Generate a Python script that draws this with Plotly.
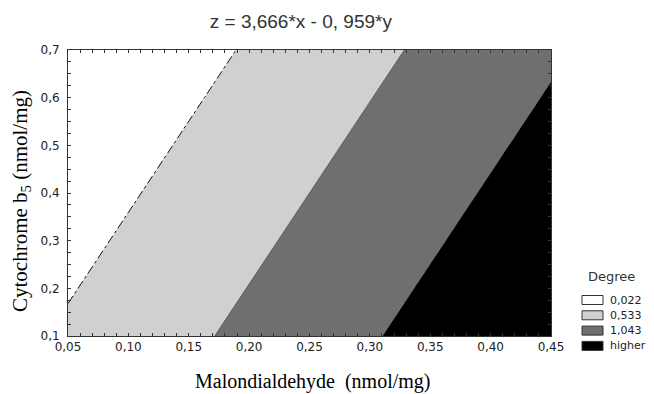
import numpy as np
import plotly.graph_objects as go

# Model shown in the title: z = 3,666*x - 0,959*y
coef_x = 3.666
coef_y = -0.959

# Grid over the axis ranges
x_vals = [0.05, 0.10, 0.15, 0.20, 0.25, 0.30, 0.35, 0.40, 0.45]
y_vals = [0.1, 0.2, 0.3, 0.4, 0.5, 0.6, 0.7]

# Contour levels (legend "Degree")
levels = [0.022, 0.533, 1.043]
legend_labels = ["0,022", "0,533", "1,043", "higher"]
band_colors = ["#ffffff", "#d0d0d0", "#6f6f6f", "#000000"]

x_ticks = [0.05, 0.10, 0.15, 0.20, 0.25, 0.30, 0.35, 0.40, 0.45]
y_ticks = [0.1, 0.2, 0.3, 0.4, 0.5, 0.6, 0.7]

X, Y = np.meshgrid(np.array(x_vals), np.array(y_vals))
Z = coef_x * X + coef_y * Y

step = (levels[-1] - levels[0]) / (len(levels) - 1)
n = len(band_colors)
cscale = []
for i, c in enumerate(band_colors):
    cscale.append([i / n, c])
    cscale.append([(i + 1) / n, c])

fig = go.Figure()
fig.add_trace(go.Contour(
    x=x_vals, y=y_vals, z=Z,
    contours=dict(start=levels[0], end=levels[-1], size=step, coloring="fill"),
    colorscale=cscale, showscale=False,
    line=dict(width=0), hoverinfo="skip", showlegend=False,
))
# dash-dot boundary of the first level
fig.add_trace(go.Contour(
    x=x_vals, y=y_vals, z=Z,
    contours=dict(start=levels[0], end=levels[0], size=step, coloring="none"),
    line=dict(width=1, color="#111111", dash="dashdot"),
    showscale=False, hoverinfo="skip", showlegend=False,
))
# faint boundary of the second level
fig.add_trace(go.Contour(
    x=x_vals, y=y_vals, z=Z,
    contours=dict(start=levels[1], end=levels[1], size=step, coloring="none"),
    line=dict(width=0.8, color="#555555"),
    showscale=False, hoverinfo="skip", showlegend=False,
))

tick_font = dict(family="DejaVu Sans", size=12, color="#222222")
axis_common = dict(
    showline=True, linecolor="#333333", linewidth=1, mirror="ticks",
    ticks="inside", ticklen=3, tickcolor="#333333", showgrid=False, zeroline=False,
    tickfont=tick_font,
)

# manual legend (Statistica style): title, boxes and labels
plot_l, plot_r, plot_t, plot_b = 68, 551, 50, 336
pw, ph = plot_r - plot_l, plot_b - plot_t


def px_x(p):
    return (p - plot_l) / pw


def px_y(p):
    return (plot_b - p) / ph


shapes = []
annotations = []
annotations.append(dict(text="Degree", xref="paper", yref="paper",
                        x=px_x(611), y=px_y(276), xanchor="center", yanchor="middle",
                        showarrow=False,
                        font=dict(family="DejaVu Sans", size=13, color="#333333")))
for i, (lab, col) in enumerate(zip(legend_labels, band_colors)):
    cy = 300 + i * 15.3
    shapes.append(dict(type="rect", xref="paper", yref="paper",
                       x0=px_x(582), x1=px_x(603), y0=px_y(cy + 4.5), y1=px_y(cy - 4.5),
                       fillcolor=col, line=dict(color="#333333", width=1)))
    annotations.append(dict(text=lab, xref="paper", yref="paper",
                            x=px_x(608), y=px_y(cy), xanchor="left", yanchor="middle",
                            showarrow=False,
                            font=dict(family="DejaVu Sans", size=11, color="#222222")))

# axis titles
annotations.append(dict(text="Malondialdehyde  (nmol/mg)", xref="paper", yref="paper",
                        x=px_x(313), y=px_y(381), xanchor="center", yanchor="middle",
                        showarrow=False,
                        font=dict(family="Liberation Serif, Times New Roman", size=20, color="black")))
annotations.append(dict(text="Cytochrome b<sub>5</sub> (nmol/mg)", xref="paper", yref="paper",
                        x=px_x(21), y=px_y(201), xanchor="center", yanchor="middle",
                        textangle=-90, showarrow=False,
                        font=dict(family="Liberation Serif, Times New Roman", size=21, color="black")))

fig.update_layout(
    width=654, height=394,
    separators=",.",
    paper_bgcolor="white", plot_bgcolor="white",
    margin=dict(l=plot_l, r=654 - plot_r, t=plot_t, b=394 - plot_b),
    title=dict(text="z = 3,666*x - 0, 959*y", x=0.46, xanchor="center", y=0.947, yanchor="middle",
               font=dict(family="Liberation Sans, Arial", size=19, color="#333333")),
    xaxis=dict(range=[0.05, 0.45], tickvals=x_ticks, tickformat=".2f",
               minor=dict(dtick=0.01, tick0=0.05, ticks="inside", ticklen=3, tickcolor="#333333"),
               **axis_common),
    yaxis=dict(range=[0.1, 0.7], tickvals=y_ticks, tickformat=".1f", ticklabelstandoff=5,
               minor=dict(dtick=0.025, tick0=0.1, ticks="inside", ticklen=3, tickcolor="#333333"),
               **axis_common),
    showlegend=False,
    shapes=shapes,
    annotations=annotations,
)

fig.write_html(
    "out.html",
    config={"displayModeBar": False},
    post_script="document.body.style.margin='0';document.documentElement.style.overflow='hidden';",
)
